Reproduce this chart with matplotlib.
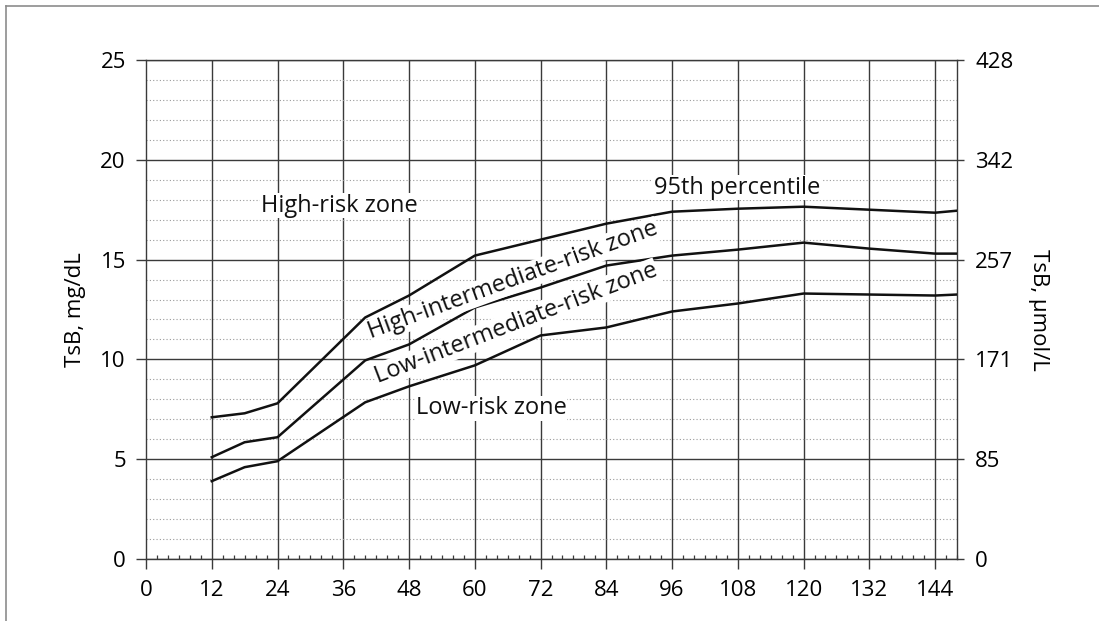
import matplotlib
matplotlib.use("Agg")
import matplotlib.pyplot as plt
from matplotlib.lines import Line2D
from matplotlib.ticker import MultipleLocator

plt.rcParams['font.family'] = ['Open Sans', 'DejaVu Sans']

# Hour-specific bilirubin nomogram (percentile tracks)
hours = [12, 18, 24, 40, 48, 60, 72, 84, 96, 108, 120, 132, 144, 148]
p95 = [7.1, 7.3, 7.8, 12.1, 13.2, 15.2, 16.0, 16.8, 17.4, 17.55, 17.65, 17.5, 17.35, 17.45]
p75 = [5.1, 5.85, 6.1, 9.95, 10.75, 12.6, 13.6, 14.7, 15.2, 15.5, 15.85, 15.55, 15.3, 15.3]
p40 = [3.9, 4.6, 4.9, 7.85, 8.65, 9.7, 11.2, 11.6, 12.4, 12.8, 13.3, 13.25, 13.2, 13.25]

x_ticks = list(range(0, 145, 12))
y_ticks = [0, 5, 10, 15, 20, 25]
umol_labels = ["0", "85", "171", "257", "342", "428"]

# zone labels: (text, hour, value, rotation)
zone_labels = [
    ("High-risk zone", 35.2, 17.7, 0),
    ("95th percentile", 107.9, 18.6, 0),
    ("High-intermediate-risk zone", 67.0, 13.95, 20),
    ("Low-intermediate-risk zone", 67.5, 11.8, 21),
    ("Low-risk zone", 63.0, 7.55, 0),
]

grid_col = "#3a3a3a"
fs_lab = 17
fs_tick = 16

fig = plt.figure(figsize=(10.99, 6.21), dpi=100)
ax = fig.add_axes([146 / 1099, 1 - 559 / 621, 811 / 1099, 499 / 621])
ax.set_xlim(0, 148)
ax.set_ylim(0, 25)

# major grid
for v in y_ticks:
    ax.axhline(v, color=grid_col, lw=1.0, zorder=1)
for h in x_ticks[1:]:
    ax.axvline(h, color=grid_col, lw=1.0, zorder=1)
# minor dotted rows
for v in range(1, 25):
    if v % 5:
        ax.axhline(v, color="#9a9a9a", lw=0.8, ls=(0, (1.0, 2.0)), zorder=1)

for s in ax.spines.values():
    s.set_color(grid_col)
    s.set_linewidth(1.0)

ax.plot(hours, p95, color="#111111", lw=1.8, zorder=3)
ax.plot(hours, p75, color="#111111", lw=1.8, zorder=3)
ax.plot(hours, p40, color="#111111", lw=1.8, zorder=3)

for txt, hx, vy, rot in zone_labels:
    ax.text(hx, vy, txt, fontsize=fs_lab, rotation=rot, ha="center", va="center",
            rotation_mode="anchor", color="#111111", zorder=4,
            bbox=dict(facecolor="white", edgecolor="none", pad=0.5))

ax.set_xticks(x_ticks)
ax.set_yticks(y_ticks)
ax.xaxis.set_minor_locator(MultipleLocator(2))
ax.tick_params(axis="x", which="major", direction="out", length=7, width=1.0,
               color=grid_col, labelsize=fs_tick, pad=8)
ax.tick_params(axis="x", which="minor", direction="in", length=3, width=0.9,
               color=grid_col)
ax.tick_params(axis="y", which="major", direction="out", length=7.5, width=1.0,
               color=grid_col, labelsize=fs_tick, pad=7)
ax.set_ylabel("TsB, mg/dL", fontsize=fs_tick, labelpad=10)

ax2 = ax.twinx()
ax2.set_ylim(0, 25)
ax2.set_yticks(y_ticks)
ax2.set_yticklabels(umol_labels)
ax2.tick_params(axis="y", direction="out", length=5, width=1.0, color=grid_col,
                labelsize=fs_tick, pad=8)
for s in ax2.spines.values():
    s.set_visible(False)
ax2.set_ylabel("TsB, \u00b5mol/L", fontsize=fs_tick, rotation=270, labelpad=26)

# scan frame
fig.add_artist(Line2D([6 / 1099, 1], [1 - 6 / 621] * 2, color="#8c8c8c", lw=1.2))
fig.add_artist(Line2D([6 / 1099] * 2, [0, 1 - 6 / 621], color="#8c8c8c", lw=1.2))

fig.savefig("out.png", dpi=100)
